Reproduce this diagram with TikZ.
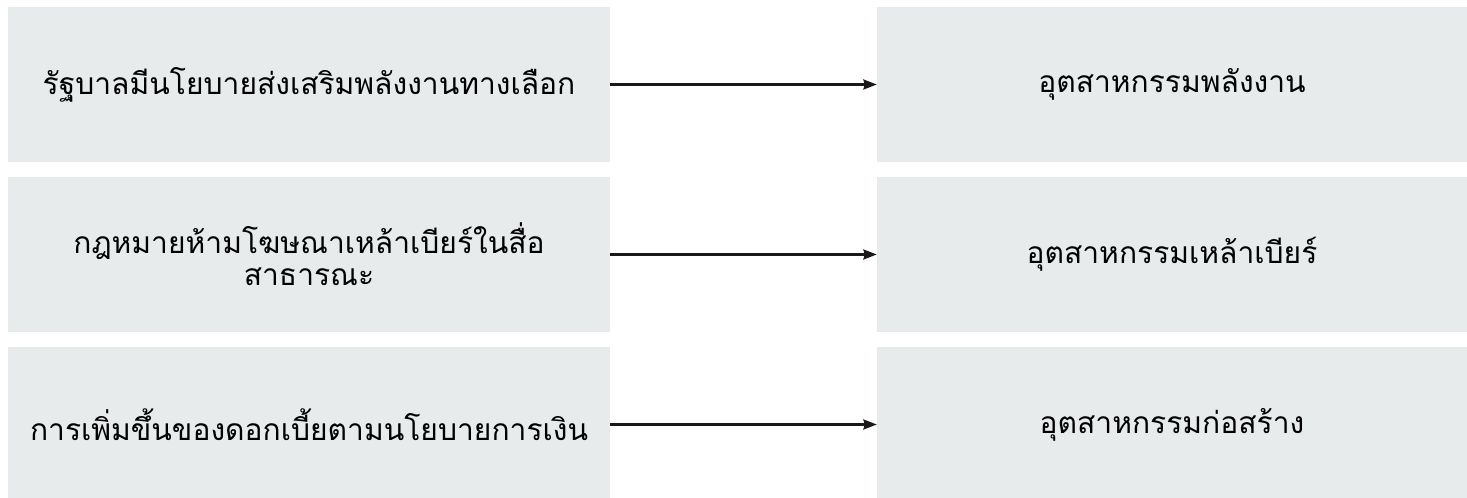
\documentclass[tikz,border=0pt]{standalone}
\usepackage{fontspec}
\usepackage{tikz}
\usetikzlibrary{arrows.meta,positioning}
\newfontfamily\thaifont[Script=Thai]{Loma}
\definecolor{boxgrey}{HTML}{E8EBEC}
\tikzset{causebox/.style={inner sep=0pt, fill=boxgrey, minimum width=602*0.75pt, minimum height=155*0.75pt, font=\thaifont\fontsize{22.5pt}{24pt}\selectfont, align=center, text width=570*0.75pt},
         effectbox/.style={causebox, minimum width=590*0.75pt},
         linkarrow/.style={-{Stealth[length=10pt,width=7.5pt,inset=1pt]}, line width=1.6pt, draw=black!90}}

\begin{document}
\begin{tikzpicture}[x=0.75pt,y=-0.75pt]
    \useasboundingbox (0,0) rectangle (1467,498);
    \node[causebox] (c1) at (309, 84.5) {รัฐบาลมีนโยบายส่งเสริมพลังงานทางเลือก};
    \node[causebox] (c2) at (309, 254.5) {กฎหมายห้ามโฆษณาเหล้าเบียร์ในสื่อ\\สาธารณะ};
    \node[causebox] (c3) at (309, 424.5) {การเพิ่มขึ้นของดอกเบี้ยตามนโยบายการเงิน};
    \node[effectbox] (e1) at (1172, 84.5) {อุตสาหกรรมพลังงาน};
    \node[effectbox] (e2) at (1172, 254.5) {อุตสาหกรรมเหล้าเบียร์};
    \node[effectbox] (e3) at (1172, 424.5) {อุตสาหกรรมก่อสร้าง};
    \draw[linkarrow] (c1) -- (e1);
    \draw[linkarrow] (c2) -- (e2);
    \draw[linkarrow] (c3) -- (e3);
\end{tikzpicture}
\end{document}
